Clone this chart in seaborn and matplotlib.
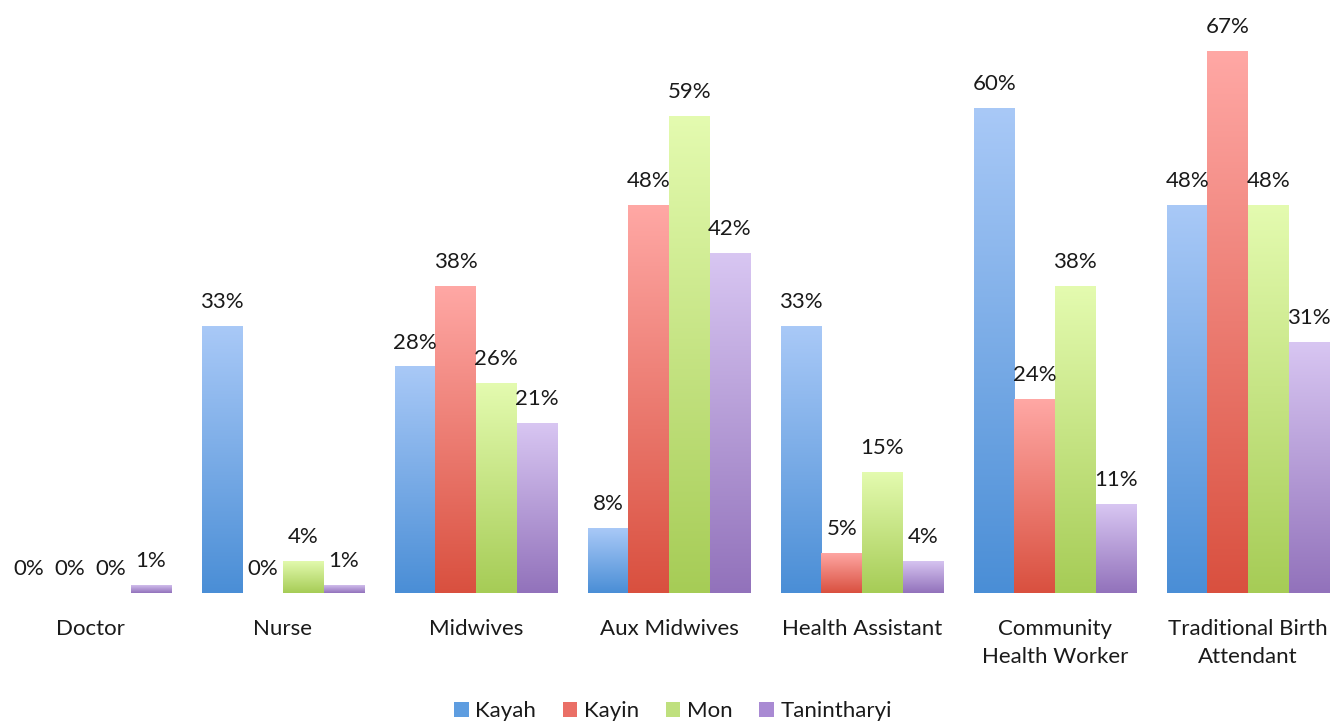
import numpy as np
import pandas as pd
import matplotlib
matplotlib.use("Agg")
import matplotlib.pyplot as plt
from matplotlib.colors import LinearSegmentedColormap
from matplotlib.patches import Patch
import seaborn as sns

categories = ["Doctor", "Nurse", "Midwives", "Aux Midwives", "Health Assistant",
              "Community\nHealth Worker", "Traditional Birth\nAttendant"]
regions = ["Kayah", "Kayin", "Mon", "Tanintharyi"]
kayah = [0, 33, 28, 8, 33, 60, 48]
kayin = [0, 0, 38, 48, 5, 24, 67]
mon = [0, 4, 26, 59, 15, 38, 48]
tanintharyi = [1, 1, 21, 42, 4, 11, 31]

series = {"Kayah": kayah, "Kayin": kayin, "Mon": mon, "Tanintharyi": tanintharyi}
rows = []
for r in regions:
    for c, v in zip(categories, series[r]):
        rows.append({"Category": c, "Region": r, "Value": v})
df = pd.DataFrame(rows)

top_colors = ["#a9c9f7", "#ffa8a5", "#e4fbb0", "#d8c6f2"]
bottom_colors = ["#4a8ed6", "#d9503f", "#a6cc56", "#9272bb"]
legend_colors = ["#5e9de0", "#ea6f66", "#bfe07e", "#a98ad3"]

sns.set_theme(style="white")
plt.rcParams["font.family"] = ["Lato", "DejaVu Sans"]

fig = plt.figure(figsize=(13.33, 7.26), dpi=100)
ax = fig.add_axes([0, 0.1832, 1, 0.8168])

sns.barplot(data=df, x="Category", y="Value", hue="Region", order=categories,
            hue_order=regions, palette=legend_colors, width=0.84, gap=0,
            ax=ax, legend=False, saturation=1)

for i, cont in enumerate(ax.containers):
    cmap = LinearSegmentedColormap.from_list(f"g{i}", [bottom_colors[i], top_colors[i]])
    grad = np.linspace(1, 0, 256).reshape(-1, 1)
    for p in cont.patches:
        x, y = p.get_x(), p.get_y()
        w, h = p.get_width(), p.get_height()
        p.set_facecolor("none")
        p.set_edgecolor("none")
        if h > 0:
            im = ax.imshow(grad, cmap=cmap, extent=[x, x + w, y, y + h],
                           aspect="auto", origin="upper", zorder=2, vmin=0, vmax=1)
            im.set_clip_path(p)
    ax.bar_label(cont, labels=[f"{int(v)}%" for v in cont.datavalues],
                 padding=10, fontsize=16, color="#1a1a1a")

ax.set_xlim(-0.4663, 6.4404)
ax.set_ylim(0, 73.3)
ax.set_xlabel("")
ax.set_ylabel("")
ax.set_yticks([])
ax.tick_params(axis="x", length=0, pad=19, labelsize=16, labelcolor="#1a1a1a")
for lbl in ax.get_xticklabels():
    lbl.set_linespacing(1.45)
for s in ax.spines.values():
    s.set_visible(False)

handles = [Patch(facecolor=c, edgecolor="none") for c in legend_colors]
fig.legend(handles, regions, loc="center", bbox_to_anchor=(0.505, 0.02), ncol=4,
           frameon=False, fontsize=16, handlelength=0.65, handleheight=0.65,
           handletextpad=0.3, columnspacing=1.2, labelcolor="#1a1a1a",
           borderpad=0.1)

fig.savefig("out.png", dpi=100)
